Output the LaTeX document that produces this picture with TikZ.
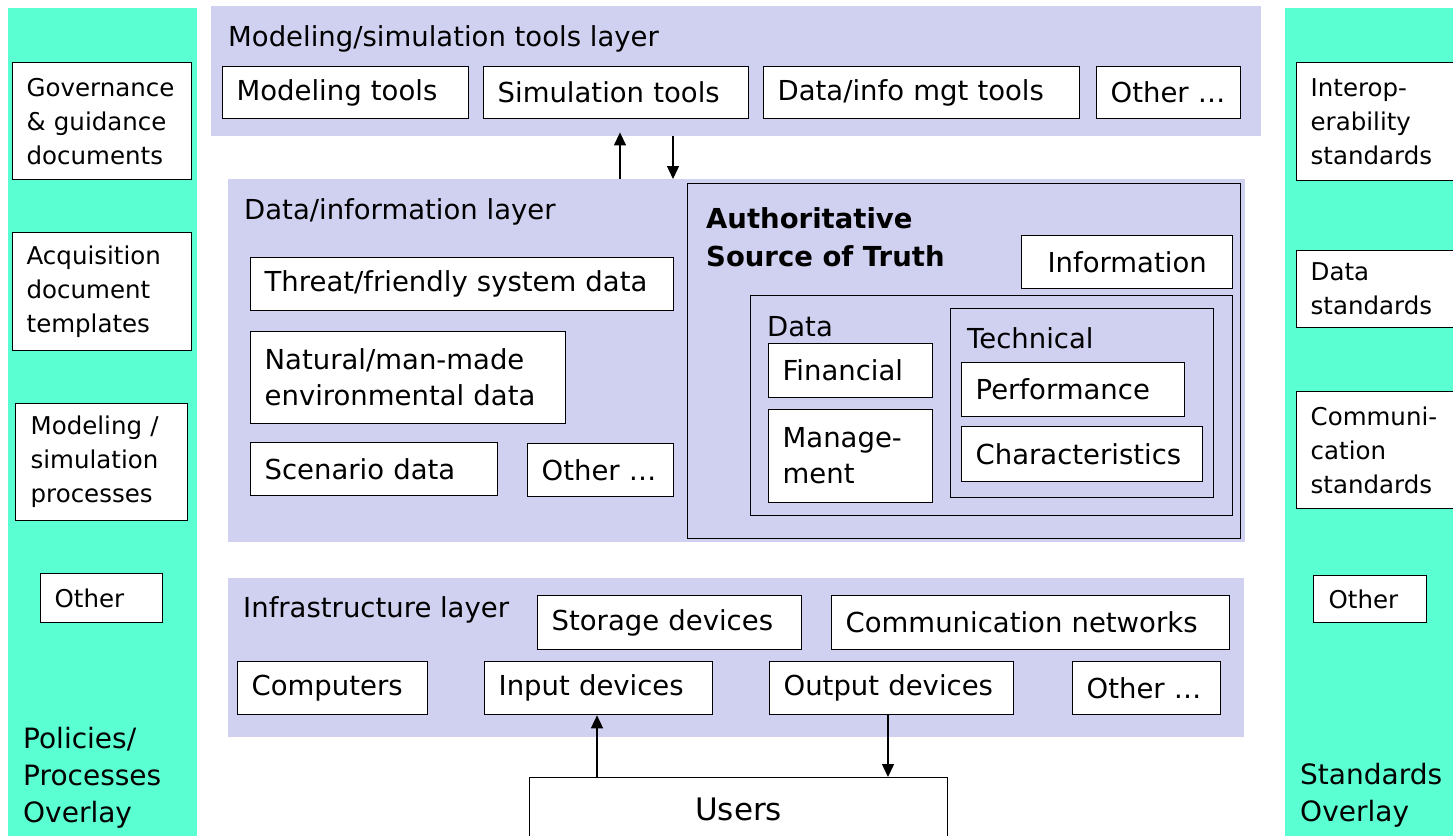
\documentclass[tikz,border=0pt]{standalone}
\usepackage{fontspec}
\setmainfont{DejaVu Sans}
\usetikzlibrary{arrows.meta}
\definecolor{ovgreen}{RGB}{90,255,210}
\definecolor{lav}{RGB}{208,208,240}
\newcommand\fmain{\fontsize{27.5}{36}\selectfont}
\newcommand\fside{\fontsize{24.5}{34}\selectfont}
\newcommand\fbig{\fontsize{28}{37}\selectfont}
\newcommand\nb[1]{\mbox{#1}}
\begin{document}
\begin{tikzpicture}[x=1pt,y=-1pt,
  area/.style={anchor=north west, inner sep=0pt, draw=none},
  frame/.style={anchor=north west, inner sep=0pt, draw=black, line width=1.3pt},
  bx/.style={draw=black, line width=1.3pt, fill=white, anchor=north west, inner xsep=14pt, inner ysep=0pt, align=left, font=\fmain},
  sbx/.style={bx, font=\fside},
  ttl/.style={anchor=west, inner sep=0pt, font=\fmain, align=left},
  arr/.style={line width=1.4pt, -{Triangle[length=13pt,width=12pt]}},
  sz/.style n args={3}{minimum width=#1, minimum height=#2, text width=#3}]
\useasboundingbox (0,0) rectangle (1453,835);
\clip (0,0) rectangle (1453,835);

% overlays
\node[area, fill=ovgreen, minimum width=189pt, minimum height=832pt] (lp) at (8,8) {};
\node[area, fill=ovgreen, minimum width=175pt, minimum height=832pt] (rp) at (1285,8) {};

% left overlay boxes
\node[sbx, sz={179pt}{117pt}{151pt}] (gov) at (12,62) {\nb{Governance}\\\nb{\& guidance}\\\nb{documents}};
\node[sbx, sz={179pt}{118pt}{151pt}] (acq) at (12,232) {\nb{Acquisition}\\\nb{document}\\\nb{templates}};
\node[sbx, sz={172pt}{117pt}{142pt}, inner xsep=15pt] (msp) at (15,403) {\nb{Modeling /}\\\nb{simulation}\\\nb{processes}};
\node[sbx, sz={122pt}{49pt}{94pt}] (olp) at (40,573) {Other};
\node[ttl, font=\fbig] (pol) at (23,778) {Policies/\\Processes\\Overlay};

% right overlay boxes
\node[sbx, sz={170pt}{118pt}{142pt}] (ist) at (1296,62) {\nb{Interop-}\\\nb{erability}\\\nb{standards}};
\node[sbx, sz={170pt}{77pt}{142pt}] (dst) at (1296,250) {\nb{Data}\\\nb{standards}};
\node[sbx, sz={170pt}{117pt}{142pt}] (cst) at (1296,391) {\nb{Communi-}\\\nb{cation}\\\nb{standards}};
\node[sbx, sz={113pt}{47pt}{83pt}, inner xsep=15pt] (ors) at (1313,575) {Other};
\node[ttl, font=\fbig] (std) at (1300,795) {Standards\\Overlay};

% modeling/simulation tools layer
\node[area, fill=lav, minimum width=1050pt, minimum height=130pt] (mst) at (211,6) {};
\node[ttl] (mstt) at (228,39) {Modeling/simulation tools layer};
\node[bx, sz={246pt}{52pt}{218pt}] (mt) at (222,66) {\nb{Modeling tools}};
\node[bx, sz={265pt}{52pt}{237pt}] (st) at (483,66) {\nb{Simulation tools}};
\node[bx, sz={316pt}{52pt}{288pt}] (dt) at (763,66) {\nb{Data/info mgt tools}};
\node[bx, sz={144pt}{52pt}{116pt}] (ot) at (1096,66) {\nb{Other …}};

% data/information layer
\node[area, fill=lav, minimum width=1017pt, minimum height=363pt] (dil) at (228,179) {};
\node[ttl] (dilt) at (244,212) {Data/information layer};
\node[bx, sz={423pt}{53pt}{395pt}] (thr) at (250,257) {\nb{Threat/friendly system data}};
\node[bx, sz={315pt}{92pt}{287pt}] (nat) at (250,331) {\nb{Natural/man-made}\\\nb{environmental data}};
\node[bx, sz={247pt}{53pt}{219pt}] (scn) at (250,442) {\nb{Scenario data}};
\node[bx, sz={146pt}{53pt}{118pt}] (odl) at (527,443) {\nb{Other …}};

% authoritative source of truth
\node[frame, minimum width=553pt, minimum height=355pt] (asot) at (687,183) {};
\node[ttl, font=\fontsize{27.5}{38}\selectfont\bfseries] (asott) at (706,237) {Authoritative\\Source of Truth};
\node[bx, align=center, minimum width=211pt, minimum height=53pt] (info) at (1021,235) {Information};
\node[frame, minimum width=482pt, minimum height=220pt] (dbox) at (750,295) {};
\node[ttl] (dboxt) at (767,327) {Data};
\node[bx, sz={164pt}{54pt}{136pt}] (fin) at (768,343) {\nb{Financial}};
\node[bx, sz={164pt}{93pt}{136pt}] (mgm) at (768,409) {\nb{Manage-}\\\nb{ment}};
\node[frame, minimum width=263pt, minimum height=189pt] (tech) at (950,308) {};
\node[ttl] (techt) at (967,338) {Technical};
\node[bx, sz={223pt}{54pt}{195pt}] (perf) at (961,362) {\nb{Performance}};
\node[bx, sz={241pt}{55pt}{213pt}] (chr) at (961,426) {\nb{Characteristics}};

% infrastructure layer
\node[area, fill=lav, minimum width=1016pt, minimum height=159pt] (inf) at (228,578) {};
\node[ttl] (inft) at (243,610) {Infrastructure layer};
\node[bx, sz={264pt}{54pt}{236pt}] (sto) at (537,595) {\nb{Storage devices}};
\node[bx, sz={398pt}{54pt}{370pt}] (com) at (831,595) {\nb{Communication networks}};
\node[bx, sz={190pt}{53pt}{162pt}] (cmp) at (237,661) {\nb{Computers}};
\node[bx, sz={228pt}{53pt}{200pt}] (inp) at (484,661) {\nb{Input devices}};
\node[bx, sz={244pt}{53pt}{216pt}] (out) at (769,661) {\nb{Output devices}};
\node[bx, sz={148pt}{53pt}{120pt}] (oin) at (1072,661) {\nb{Other …}};

% users
\node[bx, align=center, font=\fontsize{31}{36}\selectfont, minimum width=418pt, minimum height=63pt] (usr) at (529,777) {Users};

% connectors
\coordinate (ua) at (620,0);
\coordinate (da) at (673,0);
\coordinate (ub) at (597,0);
\coordinate (db) at (888,0);
\draw[arr] (dil.north -| ua) -- ([yshift=4pt]mst.south -| ua);
\draw[arr] (mst.south -| da) -- (dil.north -| da);
\draw[arr] (usr.north -| ub) -- (inp.south -| ub);
\draw[arr] (out.south -| db) -- (usr.north -| db);
\end{tikzpicture}
\end{document}
